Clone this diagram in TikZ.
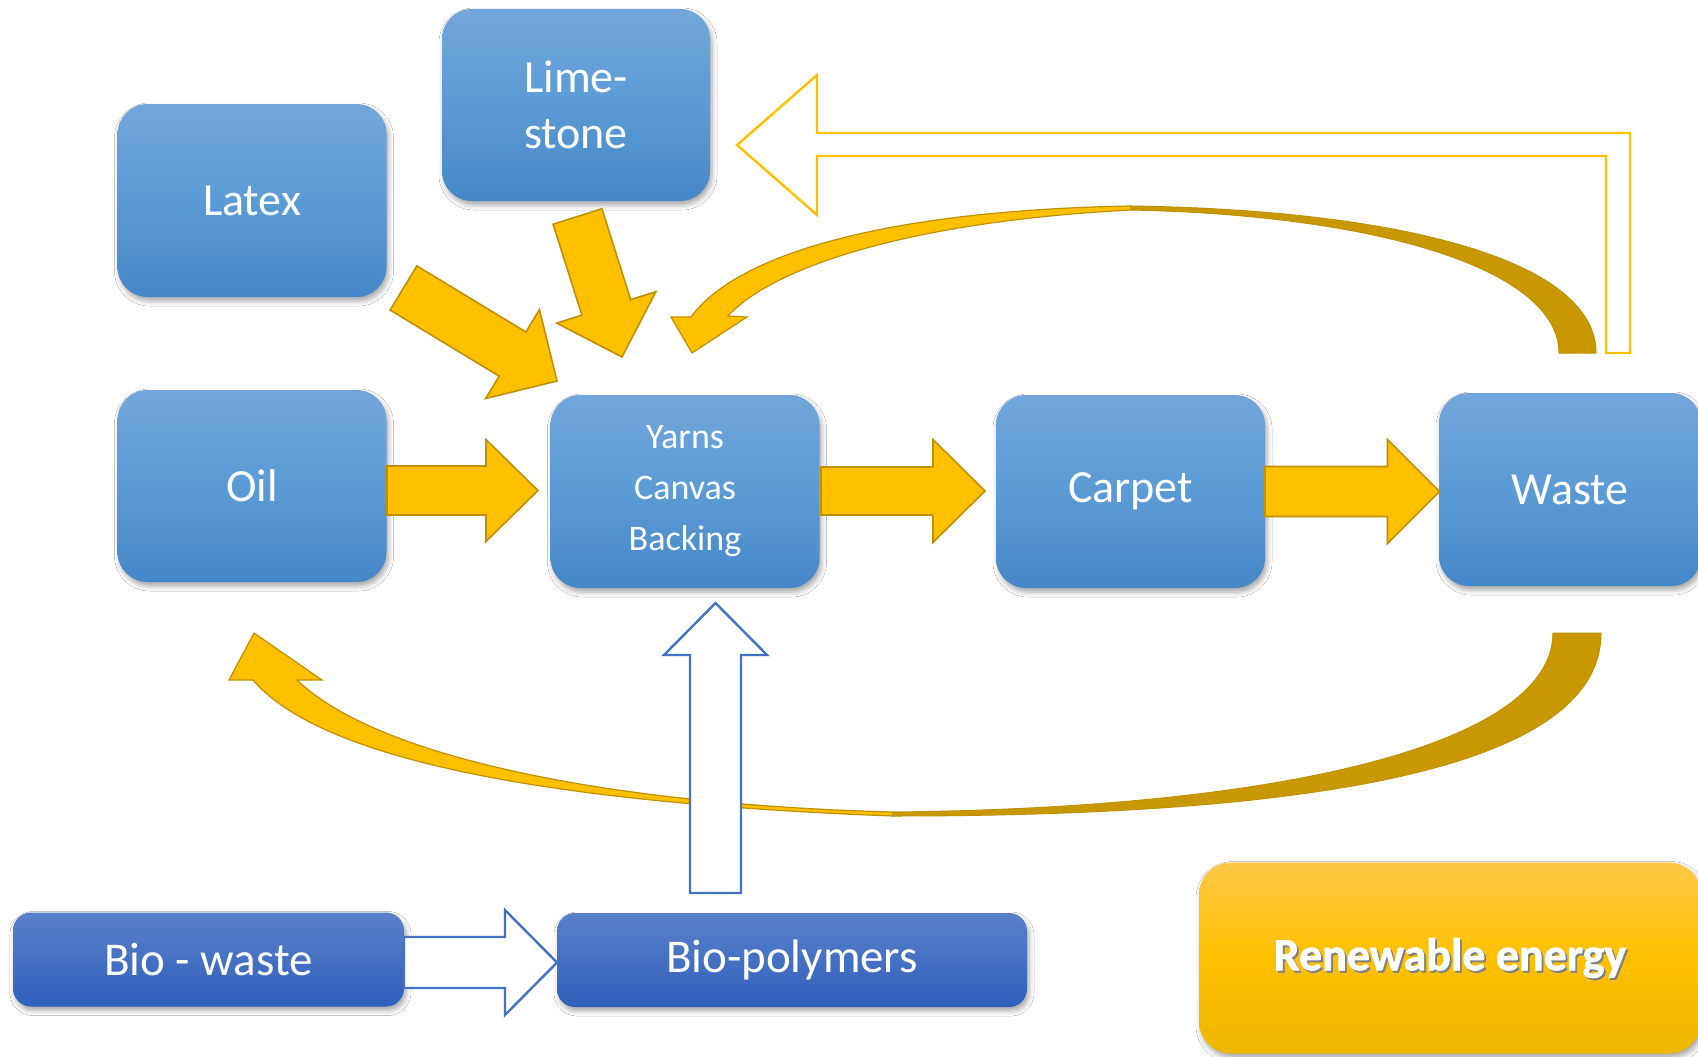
\documentclass[tikz,border=0pt]{standalone}
\usepackage{fontspec}
\setmainfont{Carlito}
\newfontfamily\heavyfont{Carlito Bold}[FakeBold=1.5]
\usetikzlibrary{calc,shadows.blur}
\definecolor{boxtop}{HTML}{72A6DB}
\definecolor{boxmid}{HTML}{5B9BD5}
\definecolor{boxbot}{HTML}{4587C7}
\definecolor{biotop}{HTML}{5B80CB}
\definecolor{biobot}{HTML}{2F60BA}
\definecolor{rentop}{HTML}{FFC846}
\definecolor{renmid}{HTML}{FFC000}
\definecolor{renbot}{HTML}{EDB800}
\definecolor{gold}{HTML}{FFC000}
\definecolor{golddark}{HTML}{C99800}
\definecolor{goldline}{HTML}{BF9000}
\definecolor{hollowblue}{HTML}{4472C4}
\newcommand\blockarr[6]{%
  \coordinate (ba-n) at ($(#3)!#6!(#2)$);
  \path[#1] ($(#2)!#4!90:(#3)$) -- ($(ba-n)!#4!90:(#3)$) -- ($(ba-n)!#5!90:(#3)$) -- (#3)
    -- ($(ba-n)!#5!-90:(#3)$) -- ($(ba-n)!#4!-90:(#3)$) -- ($(#2)!#4!-90:(#3)$) -- cycle;}
\tikzset{
  shadowed/.style={blur shadow={shadow xshift=2pt, shadow yshift=-4pt, shadow blur radius=5pt, shadow opacity=35}},
  bluebox/.style={shadowed, rounded corners=30pt, top color=boxtop, bottom color=boxbot, middle color=boxmid,
    text=white, font=\fontsize{46}{56}\selectfont, align=center, inner sep=0pt,
    minimum width=269pt, minimum height=193pt},
  biobox/.style={shadowed, rounded corners=18pt, top color=biotop, bottom color=biobot,
    text=white, font=\fontsize{47}{56}\selectfont, align=center, inner sep=0pt, minimum height=94pt},
  renbox/.style={shadowed, rounded corners=32pt, top color=rentop, bottom color=renbot, middle color=renmid,
    inner sep=0pt, minimum width=502pt, minimum height=191pt},
  goldarrow/.style={fill=gold, draw=goldline, line width=1.6pt, line join=miter},
  darkband/.style={fill=golddark, draw=goldline, line width=1pt},
  hollowgold/.style={fill=white, draw=gold, line width=2.4pt},
  hollowbluearr/.style={fill=white, draw=hollowblue, line width=2.4pt}
}
\begin{document}
\begin{tikzpicture}[x=1pt,y=-1pt]
\useasboundingbox (0,0) rectangle (1698,1057);
\clip (0,0) rectangle (1698,1057);
\fill[white] (0,0) rectangle (1698,1057);

% boxes
\node[bluebox] (latex) at (252,200.5) {Latex};
\node[bluebox, minimum width=268pt, minimum height=192pt] (lime) at (576,105) {Lime-\\stone};
\node[bluebox, minimum height=192pt] (oil) at (252,486) {Oil};
\node[bluebox, font=\fontsize{36}{51}\selectfont] (yarns) at (685,491.5) {Yarns\\Canvas\\Backing};
\node[bluebox] (carpet) at (1130.5,491.5) {Carpet};
\node[bluebox, minimum width=262pt] (waste) at (1570,489.5) {Waste};
\node[biobox, minimum width=391pt] (biowaste) at (208.5,959.5) {Bio - waste};
\node[biobox, minimum width=470pt] (biopoly) at (792,960) {Bio-polymers};
\node[renbox] (renew) at (1450,958) {};
\node[text=black!50, font=\heavyfont\fontsize{46}{56}\selectfont] (renewshade) at ($(renew)+(1.8,2)$) {Renewable energy};
\node[text=white, font=\heavyfont\fontsize{46}{56}\selectfont] (renewtext) at (renew) {Renewable energy};

% curved arrow on top (waste -> yarns)
\coordinate (tA1) at (1596,353);
\coordinate (tA2) at (1559,353);
\path[darkband] (tA1) .. controls (1596,260) and (1400,210) .. (1131,206) -- (1131,210)
  .. controls (1380,215) and (1559,270) .. (tA2) -- cycle;
\path[goldarrow, line width=1.2pt] (1131,206) .. controls (900,210) and (740,250) .. (691,317) -- (671,317)
  -- (692,353) -- (747,317) -- (728,316) .. controls (770,270) and (900,222) .. (1131,210) -- cycle;

% curved arrow at bottom (waste -> oil)
\coordinate (bA1) at (1601,633);
\coordinate (bA2) at (1553,633);
\path[darkband] (bA1) .. controls (1601,760) and (1350,816) .. (893,816) -- (893,812)
  .. controls (1300,808) and (1553,740) .. (bA2) -- cycle;
\path[goldarrow, line width=1.2pt] (893,816) .. controls (600,805) and (330,770) .. (253,680) -- (229,680)
  -- (254,633) -- (322,680) -- (297,680) .. controls (380,760) and (620,805) .. (893,812) -- cycle;

% hollow bent arrow (waste -> limestone)
\draw[hollowgold] (1606,353) -- (1630,353) -- (1630,133) -- (817,133) -- (817,75) -- (737,145)
  -- (817,215) -- (817,156) -- (1606,156) -- cycle;

% straight block arrows
\coordinate (oy1) at (387,490.5);  \coordinate (oy2) at (538,490.5);
\coordinate (yc1) at (821,491);    \coordinate (yc2) at (985,491);
\coordinate (cw1) at (1265,491.5); \coordinate (cw2) at (1439.5,491.5);
\coordinate (ly1) at (403.5,288);  \coordinate (ly2) at (557,381);
\coordinate (ls1) at (577.5,216.5);\coordinate (ls2) at (622,357);
\coordinate (bb1) at (404,962.5);  \coordinate (bb2) at (557,962.5);
\coordinate (by1) at (715.5,893);  \coordinate (by2) at (715.5,603);
\blockarr{goldarrow}{oy1}{oy2}{24.5pt}{51pt}{52pt}
\blockarr{goldarrow}{yc1}{yc2}{24pt}{51.5pt}{52pt}
\blockarr{goldarrow}{cw1}{cw2}{25pt}{52pt}{52pt}
\blockarr{goldarrow}{ly1}{ly2}{25.8pt}{52pt}{52pt}
\blockarr{goldarrow}{ls1}{ls2}{25.6pt}{52pt}{52pt}
\blockarr{hollowbluearr}{bb1}{bb2}{25.5pt}{52.5pt}{52pt}
\blockarr{hollowbluearr}{by1}{by2}{25.5pt}{51.5pt}{52pt}
\end{tikzpicture}
\end{document}
